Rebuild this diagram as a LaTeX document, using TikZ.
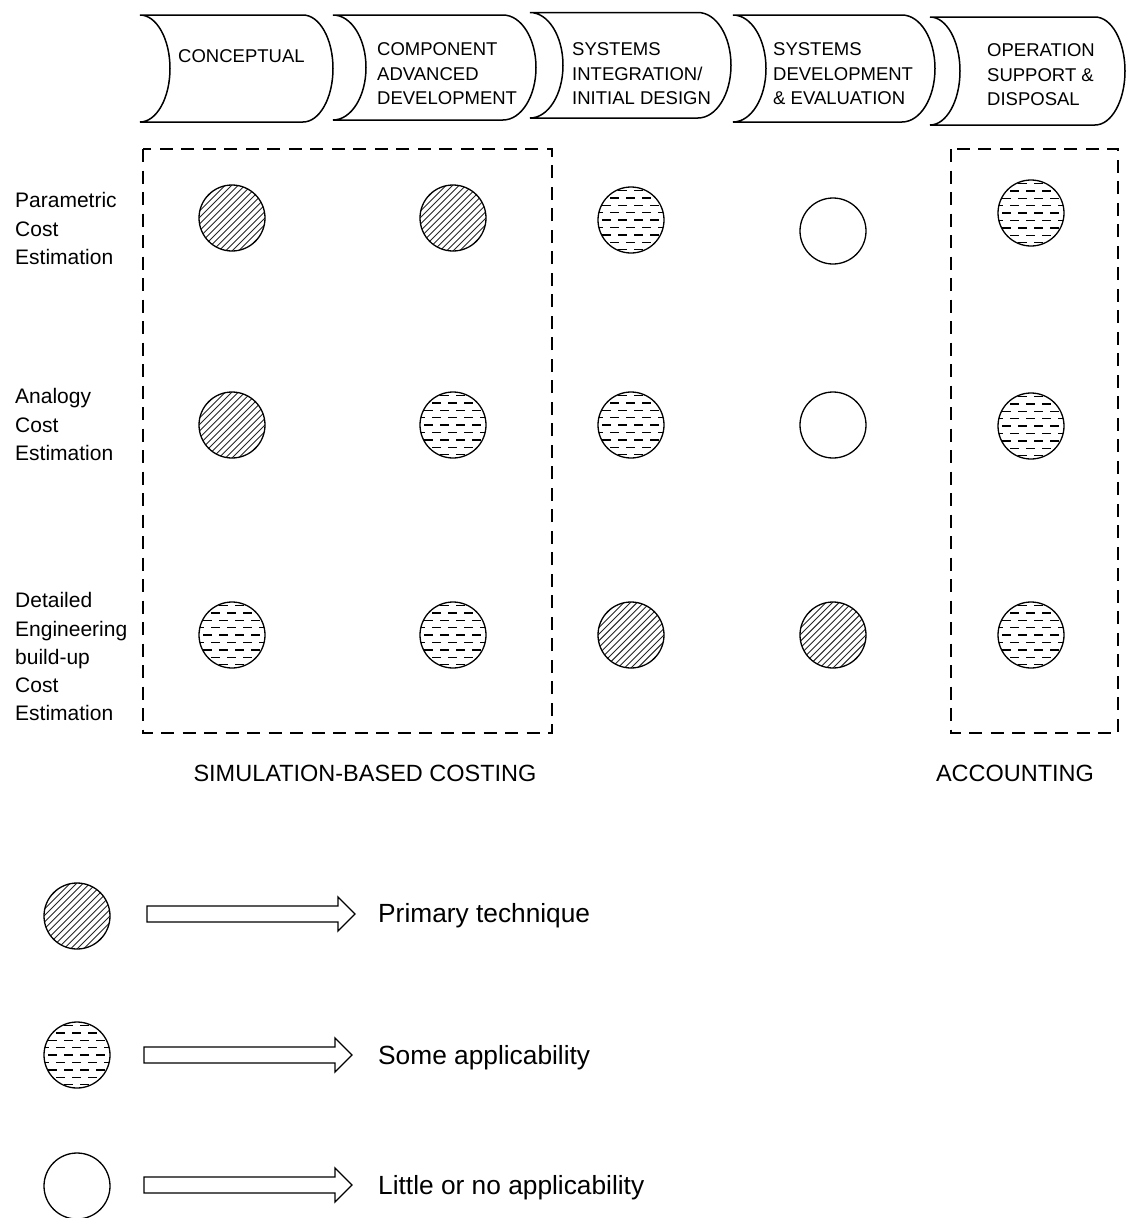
\documentclass[tikz,border=0pt]{standalone}
\usepackage{fontspec}
\setmainfont{Liberation Sans}
\usetikzlibrary{calc}

% life-cycle phase banner: concave left side, convex right side
% #1 left x, #2 top y, #3 bottom y, #4 rightmost x, #5 curve depth
\newcommand\phaseband[5]{%
  \draw[phase] (#1,#2) -- ({#4-#5},#2)
    .. controls ({#4-#5+0.5523*#5},#2) and (#4,{(#2+#3)/2-0.5523*(#3-#2)/2}) .. (#4,{(#2+#3)/2})
    .. controls (#4,{(#2+#3)/2+0.5523*(#3-#2)/2}) and ({#4-#5+0.5523*#5},#3) .. ({#4-#5},#3)
    -- (#1,#3)
    .. controls ({#1+0.5523*#5},#3) and ({#1+#5},{(#2+#3)/2+0.5523*(#3-#2)/2}) .. ({#1+#5},{(#2+#3)/2})
    .. controls ({#1+#5},{(#2+#3)/2-0.5523*(#3-#2)/2}) and ({#1+0.5523*#5},#2) .. cycle;}

\begin{document}
\begin{tikzpicture}[x=1pt,y=-1pt,
  phase/.style={draw, line width=1.5pt, fill=white},
  headtxt/.style={anchor=north west, inner sep=0pt, align=left,
    font=\fontsize{18.5}{24.5}\selectfont},
  rowtxt/.style={anchor=north west, inner sep=0pt, align=left,
    font=\fontsize{21}{28.2}\selectfont},
  grouptxt/.style={inner sep=0pt, font=\fontsize{23.5}{28}\selectfont},
  legtxt/.style={anchor=base west, inner sep=0pt, font=\fontsize{26.3}{30}\selectfont},
  groupbox/.style={draw, line width=1.3pt, dash pattern=on 13pt off 8.5pt},
  techdot/.style={circle, draw, line width=1.3pt, minimum size=66pt, inner sep=0pt},
  primary/.style={techdot, path picture={
    \begin{scope}[shift={(path picture bounding box.center)}]
      \foreach \k in {-10,...,10}
        \draw[line width=0.9pt, black!85] (\k*6.6-45,45) -- ++(90,-90);
    \end{scope}}},
  some/.style={techdot, path picture={
    \begin{scope}[shift={(path picture bounding box.center)}]
      \foreach \j [evaluate=\j as \sh using {mod(\j+4,2)*8}] in {-4,...,4}
        \draw[line width=1.4pt, dash pattern=on 9pt off 7pt] (-45+\sh,\j*7.4) -- ++(95,0);
    \end{scope}}},
  little/.style={techdot},
  legarrow/.pic={
    \draw[line width=1.3pt, fill=white] (0,-8) -- (191,-8) -- (191,-17) -- (208,0)
      -- (191,17) -- (191,8) -- (0,8) -- cycle;}
]
\useasboundingbox (0,0) rectangle (1126,1218);

% phase banners
\phaseband{140}{15}{122}{333}{30}
\phaseband{333}{15}{120}{536}{33}
\phaseband{530}{12.5}{118}{731}{33}
\phaseband{733}{15}{122}{935}{33}
\phaseband{930}{17}{125}{1125}{30}

\node[headtxt] (p1) at (178,49.4) {CONCEPTUAL};
\node[headtxt] (p2) at (377,42.4) {COMPONENT\\ADVANCED\\DEVELOPMENT};
\node[headtxt] (p3) at (572,42.8) {SYSTEMS\\INTEGRATION/\\INITIAL DESIGN};
\node[headtxt] (p4) at (773,42.4) {SYSTEMS\\DEVELOPMENT\\\& EVALUATION};
\node[headtxt] (p5) at (987,43.5) {OPERATION\\SUPPORT \&\\DISPOSAL};

% estimation techniques
\node[rowtxt] (r1) at (15,192.5) {Parametric\\Cost\\Estimation};
\node[rowtxt] (r2) at (15,388.5) {Analogy\\Cost\\Estimation};
\node[rowtxt] (r3) at (15,592.5) {Detailed\\Engineering\\build-up\\Cost\\Estimation};

% groupings
\draw[groupbox] (143,149) rectangle (552,733);
\draw[groupbox] (951,149) rectangle (1118,733);
\node[grouptxt] (g1) at (365,773) {SIMULATION-BASED COSTING};
\node[grouptxt] (g2) at (1015,773) {ACCOUNTING};

% applicability matrix
\node[primary] (c11) at (232,218) {};
\node[primary] (c12) at (453,218) {};
\node[some]    (c13) at (631,220) {};
\node[little]  (c14) at (833,231) {};
\node[some]    (c15) at (1031,213) {};

\node[primary] (c21) at (232,425) {};
\node[some]    (c22) at (453,425) {};
\node[some]    (c23) at (631,425) {};
\node[little]  (c24) at (833,425) {};
\node[some]    (c25) at (1031,426) {};

\node[some]    (c31) at (232,635) {};
\node[some]    (c32) at (453,635) {};
\node[primary] (c33) at (631,635) {};
\node[primary] (c34) at (833,635) {};
\node[some]    (c35) at (1031,635) {};

% legend
\node[primary] (l1) at (77,916) {};
\node[some]    (l2) at (77,1055) {};
\node[little]  (l3) at (77,1186) {};
\pic (a1) at (147,914) {legarrow};
\pic (a2) at (144,1055) {legarrow};
\pic (a3) at (144,1185) {legarrow};
\node[legtxt] (t1) at (378,922) {Primary technique};
\node[legtxt] (t2) at (378,1064) {Some applicability};
\node[legtxt] (t3) at (378,1194) {Little or no applicability};
\end{tikzpicture}
\end{document}
